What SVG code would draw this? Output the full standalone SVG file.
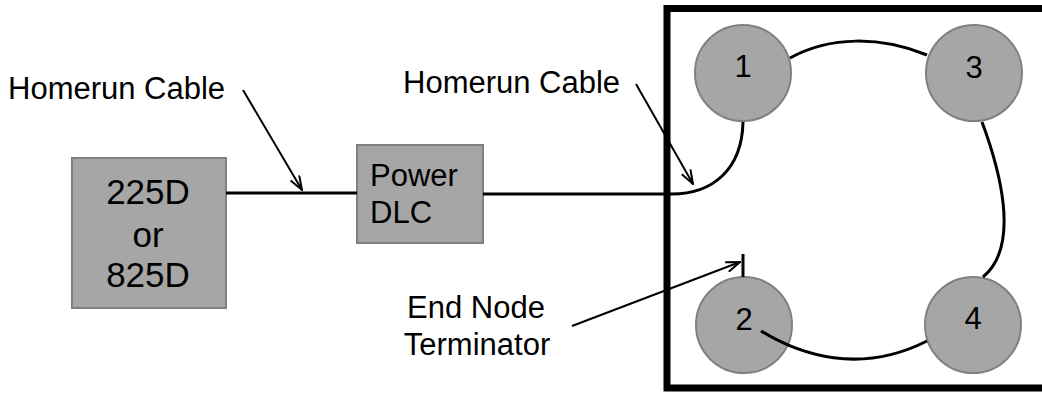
<svg xmlns="http://www.w3.org/2000/svg" width="1042" height="395" viewBox="0 0 1042 395">
<style>
.box{fill:#a6a6a6;stroke:#808080;stroke-width:2}
.nd{fill:#a6a6a6;stroke:#808080;stroke-width:2}
.t{font-family:"Liberation Sans",Arial,sans-serif;font-size:31px;fill:#000}
.tb{font-family:"Liberation Sans",Arial,sans-serif;font-size:35px;fill:#000;text-anchor:middle}
.tc{text-anchor:middle}
.cable{fill:none;stroke:#000;stroke-width:3}
.ptr{fill:none;stroke:#000;stroke-width:2;marker-end:url(#ah)}
</style>
<defs>
<marker id="ah" viewBox="0 0 16 12" refX="15" refY="6" markerWidth="16" markerHeight="12" markerUnits="userSpaceOnUse" orient="auto">
<path d="M1,1 L15,6 L1,11" fill="none" stroke="#000" stroke-width="2"/>
</marker>
</defs>
<rect width="1042" height="395" fill="#fff"/>
<g id="enclosure">
<path d="M1050,8.5 L667,8.5 L667,388 L1050,388" fill="none" stroke="#000" stroke-width="7"/>
</g>
<g id="controller">
<rect class="box" x="72" y="158" width="154" height="150"/>
<text class="tb" x="148" y="204">225D</text>
<text class="tb" x="148" y="247">or</text>
<text class="tb" x="148" y="287">825D</text>
</g>
<g id="power-dlc">
<rect class="box" x="357" y="145" width="126" height="98"/>
<text class="t" x="370" y="186">Power</text>
<text class="t" x="370" y="223">DLC</text>
</g>
<g id="node1">
<circle class="nd" cx="743" cy="73" r="48"/>
<text class="t tc" x="743" y="77">1</text>
</g>
<g id="node3">
<circle class="nd" cx="974" cy="73" r="48"/>
<text class="t tc" x="974" y="78">3</text>
</g>
<g id="node2">
<circle class="nd" cx="744" cy="325" r="48"/>
<text class="t tc" x="744" y="330">2</text>
</g>
<g id="node4">
<circle class="nd" cx="973" cy="325" r="48"/>
<text class="t tc" x="973" y="329">4</text>
</g>
<g id="connectors">
<line class="cable" x1="226" y1="193" x2="357" y2="193"/>
<path class="cable" d="M483,194 L672,194 C712,194 742,170 743,122"/>
<path class="cable" d="M790,58 C830,36 880,36 927,55"/>
<path class="cable" d="M982,122 C998,165 1022,245 983,277"/>
<path class="cable" d="M761,331 C800,355 860,375 927,341"/>
<line x1="743" y1="254" x2="743" y2="277" stroke="#000" stroke-width="3"/>
<line class="ptr" x1="243" y1="90" x2="302" y2="190"/>
<line class="ptr" x1="636" y1="84" x2="693" y2="184"/>
<line class="ptr" x1="572" y1="326" x2="740" y2="262"/>
</g>
<g id="labels">
<text class="t" x="8" y="99">Homerun Cable</text>
<text class="t" x="403" y="93">Homerun Cable</text>
<text class="t tc" x="476" y="318">End Node</text>
<text class="t tc" x="477" y="355">Terminator</text>
</g>
</svg>
